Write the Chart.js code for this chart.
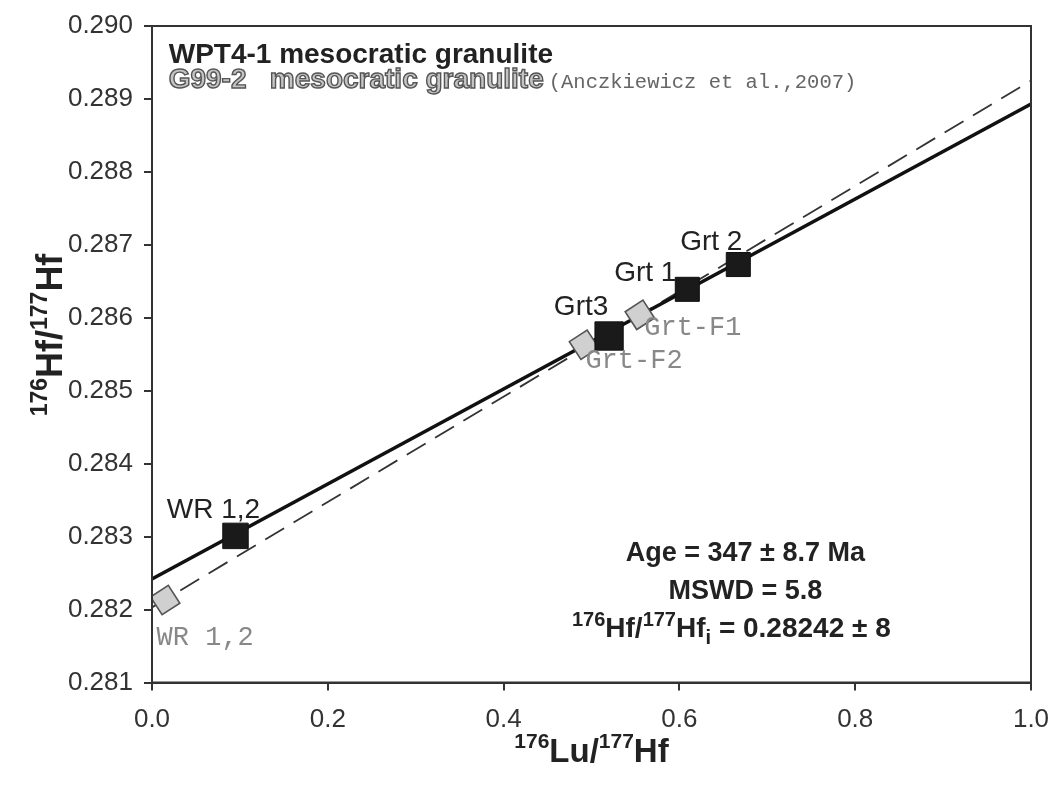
<!DOCTYPE html>
<html>
<head>
<meta charset="utf-8">
<script src="https://cdn.jsdelivr.net/npm/chart.js@4.4.1/dist/chart.umd.min.js"></script>
<style>
  html, body { margin: 0; padding: 0; background: #fff; }
  #wrap { width: 1052px; height: 785px; position: relative; }
</style>
</head>
<body>
<div id="wrap"><canvas id="isochron"></canvas></div>
<script>
  // tick labels
  var xTicks = [0.0, 0.2, 0.4, 0.6, 0.8, 1.0];
  var yTicks = [0.281, 0.282, 0.283, 0.284, 0.285, 0.286, 0.287, 0.288, 0.289, 0.290];

  // WPT4-1 (this study)
  var wptNames = ["WR 1,2", "Grt3", "Grt 1", "Grt 2"];
  var wptLuHf = [0.095, 0.520, 0.609, 0.667];
  var wptHfHf = [0.28301, 0.28575, 0.28639, 0.28673];

  // G99-2 (Anczkiewicz et al., 2007)
  var g99Names = ["WR 1,2", "Grt-F2", "Grt-F1"];
  var g99LuHf = [0.015, 0.4915, 0.555];
  var g99HfHf = [0.28213, 0.28563, 0.28604];

  // isochrons, end points at x = 0 and x = 1
  var lineX = [0, 1];
  var wptLineY = [0.28242, 0.28893];
  var g99LineY = [0.28203, 0.28925];

  function pts(xs, ys) {
    return xs.map(function(x, i) { return { x: x, y: ys[i] }; });
  }

  // draw a run of text pieces (for superscripts / subscripts)
  function drawRuns(ctx, runs, x, y, align, outline) {
    var w = 0;
    runs.forEach(function(r) { ctx.font = r[1]; w += ctx.measureText(r[0]).width; });
    var cx = align === "center" ? x - w / 2 : x;
    runs.forEach(function(r) {
      ctx.font = r[1];
      if (outline) {
        ctx.fillStyle = outline.fill;
        ctx.fillText(r[0], cx, y + (r[2] || 0));
        ctx.strokeStyle = outline.stroke;
        ctx.lineWidth = outline.width;
        ctx.strokeText(r[0], cx, y + (r[2] || 0));
      } else {
        ctx.fillText(r[0], cx, y + (r[2] || 0));
      }
      cx += ctx.measureText(r[0]).width;
    });
    return cx;
  }

  var SANS = "Arial, 'Liberation Sans', sans-serif";
  var NARROW = "'Liberation Sans Narrow', 'Arial Narrow', " + SANS;
  var MONO = "'Courier New', 'Liberation Mono', monospace";

  var labelsPlugin = {
    id: "labels",
    afterDatasetsDraw: function(chart) {
      var ctx = chart.ctx;
      var xs = chart.scales.x, ys = chart.scales.y;
      var a = chart.chartArea;
      ctx.save();

      // frame
      ctx.strokeStyle = "#333";
      ctx.lineWidth = 2;
      ctx.strokeRect(a.left, a.top, a.right - a.left, a.bottom - a.top);

      ctx.textBaseline = "alphabetic";
      ctx.textAlign = "left";

      // point labels
      var wptOff = [[-22, -18], [-28, -21], [-42, -8], [-27, -15]];
      ctx.fillStyle = "#222";
      wptNames.forEach(function(n, i) {
        var px = xs.getPixelForValue(wptLuHf[i]) + wptOff[i][0];
        var py = ys.getPixelForValue(wptHfHf[i]) + wptOff[i][1];
        drawRuns(ctx, [[n, "28px " + SANS]], px, py, "center");
      });
      var g99Off = [[40, 45], [50, 23], [53, 20]];
      ctx.fillStyle = "#888";
      g99Names.forEach(function(n, i) {
        var px = xs.getPixelForValue(g99LuHf[i]) + g99Off[i][0];
        var py = ys.getPixelForValue(g99HfHf[i]) + g99Off[i][1];
        drawRuns(ctx, [[n, "27px " + MONO]], px, py, "center");
      });

      // header
      var hx = xs.getPixelForValue(0.019);
      ctx.fillStyle = "#222";
      drawRuns(ctx, [["WPT4-1 mesocratic granulite", "bold 28px " + SANS]], hx, ys.getPixelForValue(0.28949), "left");
      var ex = drawRuns(ctx, [["G99-2   mesocratic granulite", "bold 28px " + SANS]], hx, ys.getPixelForValue(0.28915), "left",
        { fill: "#c4c4c4", stroke: "#555", width: 1.4 });
      ctx.fillStyle = "#666";
      drawRuns(ctx, [["(Anczkiewicz et al.,2007)", "20.5px " + MONO]], ex + 5, ys.getPixelForValue(0.28915), "left");

      // statistics
      ctx.fillStyle = "#222";
      var sx = xs.getPixelForValue(0.675);
      drawRuns(ctx, [["Age = 347 \u00b1 8.7 Ma", "bold 27px " + SANS]], sx, ys.getPixelForValue(0.28266), "center");
      drawRuns(ctx, [["MSWD = 5.8", "bold 27px " + SANS]], sx, ys.getPixelForValue(0.28214), "center");
      drawRuns(ctx, [
        ["176", "bold 20px " + SANS, -11],
        ["Hf/", "bold 28px " + SANS],
        ["177", "bold 20px " + SANS, -11],
        ["Hf", "bold 28px " + SANS],
        ["i", "bold 20px " + SANS, 7],
        [" = 0.28242 \u00b1 8", "bold 28px " + SANS]
      ], sx - 14, ys.getPixelForValue(0.28162), "center");

      // axis titles
      ctx.fillStyle = "#222";
      drawRuns(ctx, [
        ["176", "bold 21px " + NARROW, -14],
        ["Lu/", "bold 33px " + NARROW],
        ["177", "bold 21px " + NARROW, -14],
        ["Hf", "bold 33px " + NARROW]
      ], (a.left + a.right) / 2, 762, "center");
      ctx.translate(62, 335);
      ctx.rotate(-Math.PI / 2);
      drawRuns(ctx, [
        ["176", "bold 23px " + NARROW, -15],
        ["Hf/", "bold 36px " + NARROW],
        ["177", "bold 23px " + NARROW, -15],
        ["Hf", "bold 36px " + NARROW]
      ], 0, 0, "center");

      ctx.restore();
    }
  };

  var ctx = document.getElementById("isochron").getContext("2d");
  var chart = new Chart(ctx, {
    type: "scatter",
    data: {
      datasets: [
        {
          label: "WPT4-1",
          data: pts(wptLuHf, wptHfHf),
          pointStyle: "rect",
          pointRadius: [18, 20, 17, 17],
          pointHoverRadius: 18,
          backgroundColor: "#1a1a1a",
          borderColor: "#111",
          borderWidth: 1,
          order: 0
        },
        {
          label: "G99-2",
          data: pts(g99LuHf, g99HfHf),
          pointStyle: "rectRot",
          pointRotation: 12,
          pointRadius: 15,
          pointHoverRadius: 15,
          backgroundColor: "#d0d0d0",
          borderColor: "#555",
          borderWidth: 1.6,
          order: 1
        },
        {
          label: "WPT4-1 isochron",
          data: pts(lineX, wptLineY),
          showLine: true,
          pointRadius: 0,
          borderColor: "#111",
          borderWidth: 3.5,
          order: 2
        },
        {
          label: "G99-2 isochron",
          data: pts(lineX, g99LineY),
          showLine: true,
          pointRadius: 0,
          borderColor: "#333",
          borderWidth: 1.8,
          borderDash: [22, 11],
          order: 3
        }
      ]
    },
    options: {
      responsive: true,
      maintainAspectRatio: false,
      animation: false,
      layout: { padding: { top: 26, right: 21, left: 0, bottom: 0 } },
      plugins: {
        legend: { display: false },
        tooltip: { enabled: false }
      },
      scales: {
        x: {
          type: "linear",
          min: 0,
          max: 1,
          afterBuildTicks: function(s) { s.ticks = xTicks.map(function(v) { return { value: v }; }); },
          afterFit: function(s) { s.height = 102.5; s.paddingLeft = 0; s.paddingRight = 0; },
          ticks: {
            padding: 14,
            color: "#333",
            font: { family: NARROW, size: 26 },
            callback: function(v) { return Number(v).toFixed(1); }
          },
          grid: { drawOnChartArea: false, drawTicks: true, tickLength: 8, color: "#333", lineWidth: 2 },
          border: { display: true, color: "#333", width: 2 }
        },
        y: {
          type: "linear",
          min: 0.281,
          max: 0.290,
          afterBuildTicks: function(s) { s.ticks = yTicks.map(function(v) { return { value: v }; }); },
          afterFit: function(s) { s.width = 152; s.paddingTop = 0; s.paddingBottom = 0; },
          ticks: {
            padding: 11,
            color: "#333",
            font: { family: SANS, size: 26 },
            callback: function(v) { return Number(v).toFixed(3); }
          },
          grid: { drawOnChartArea: false, drawTicks: true, tickLength: 8, color: "#333", lineWidth: 2 },
          border: { display: true, color: "#333", width: 2 }
        }
      }
    },
    plugins: [labelsPlugin]
  });
</script>
</body>
</html>
